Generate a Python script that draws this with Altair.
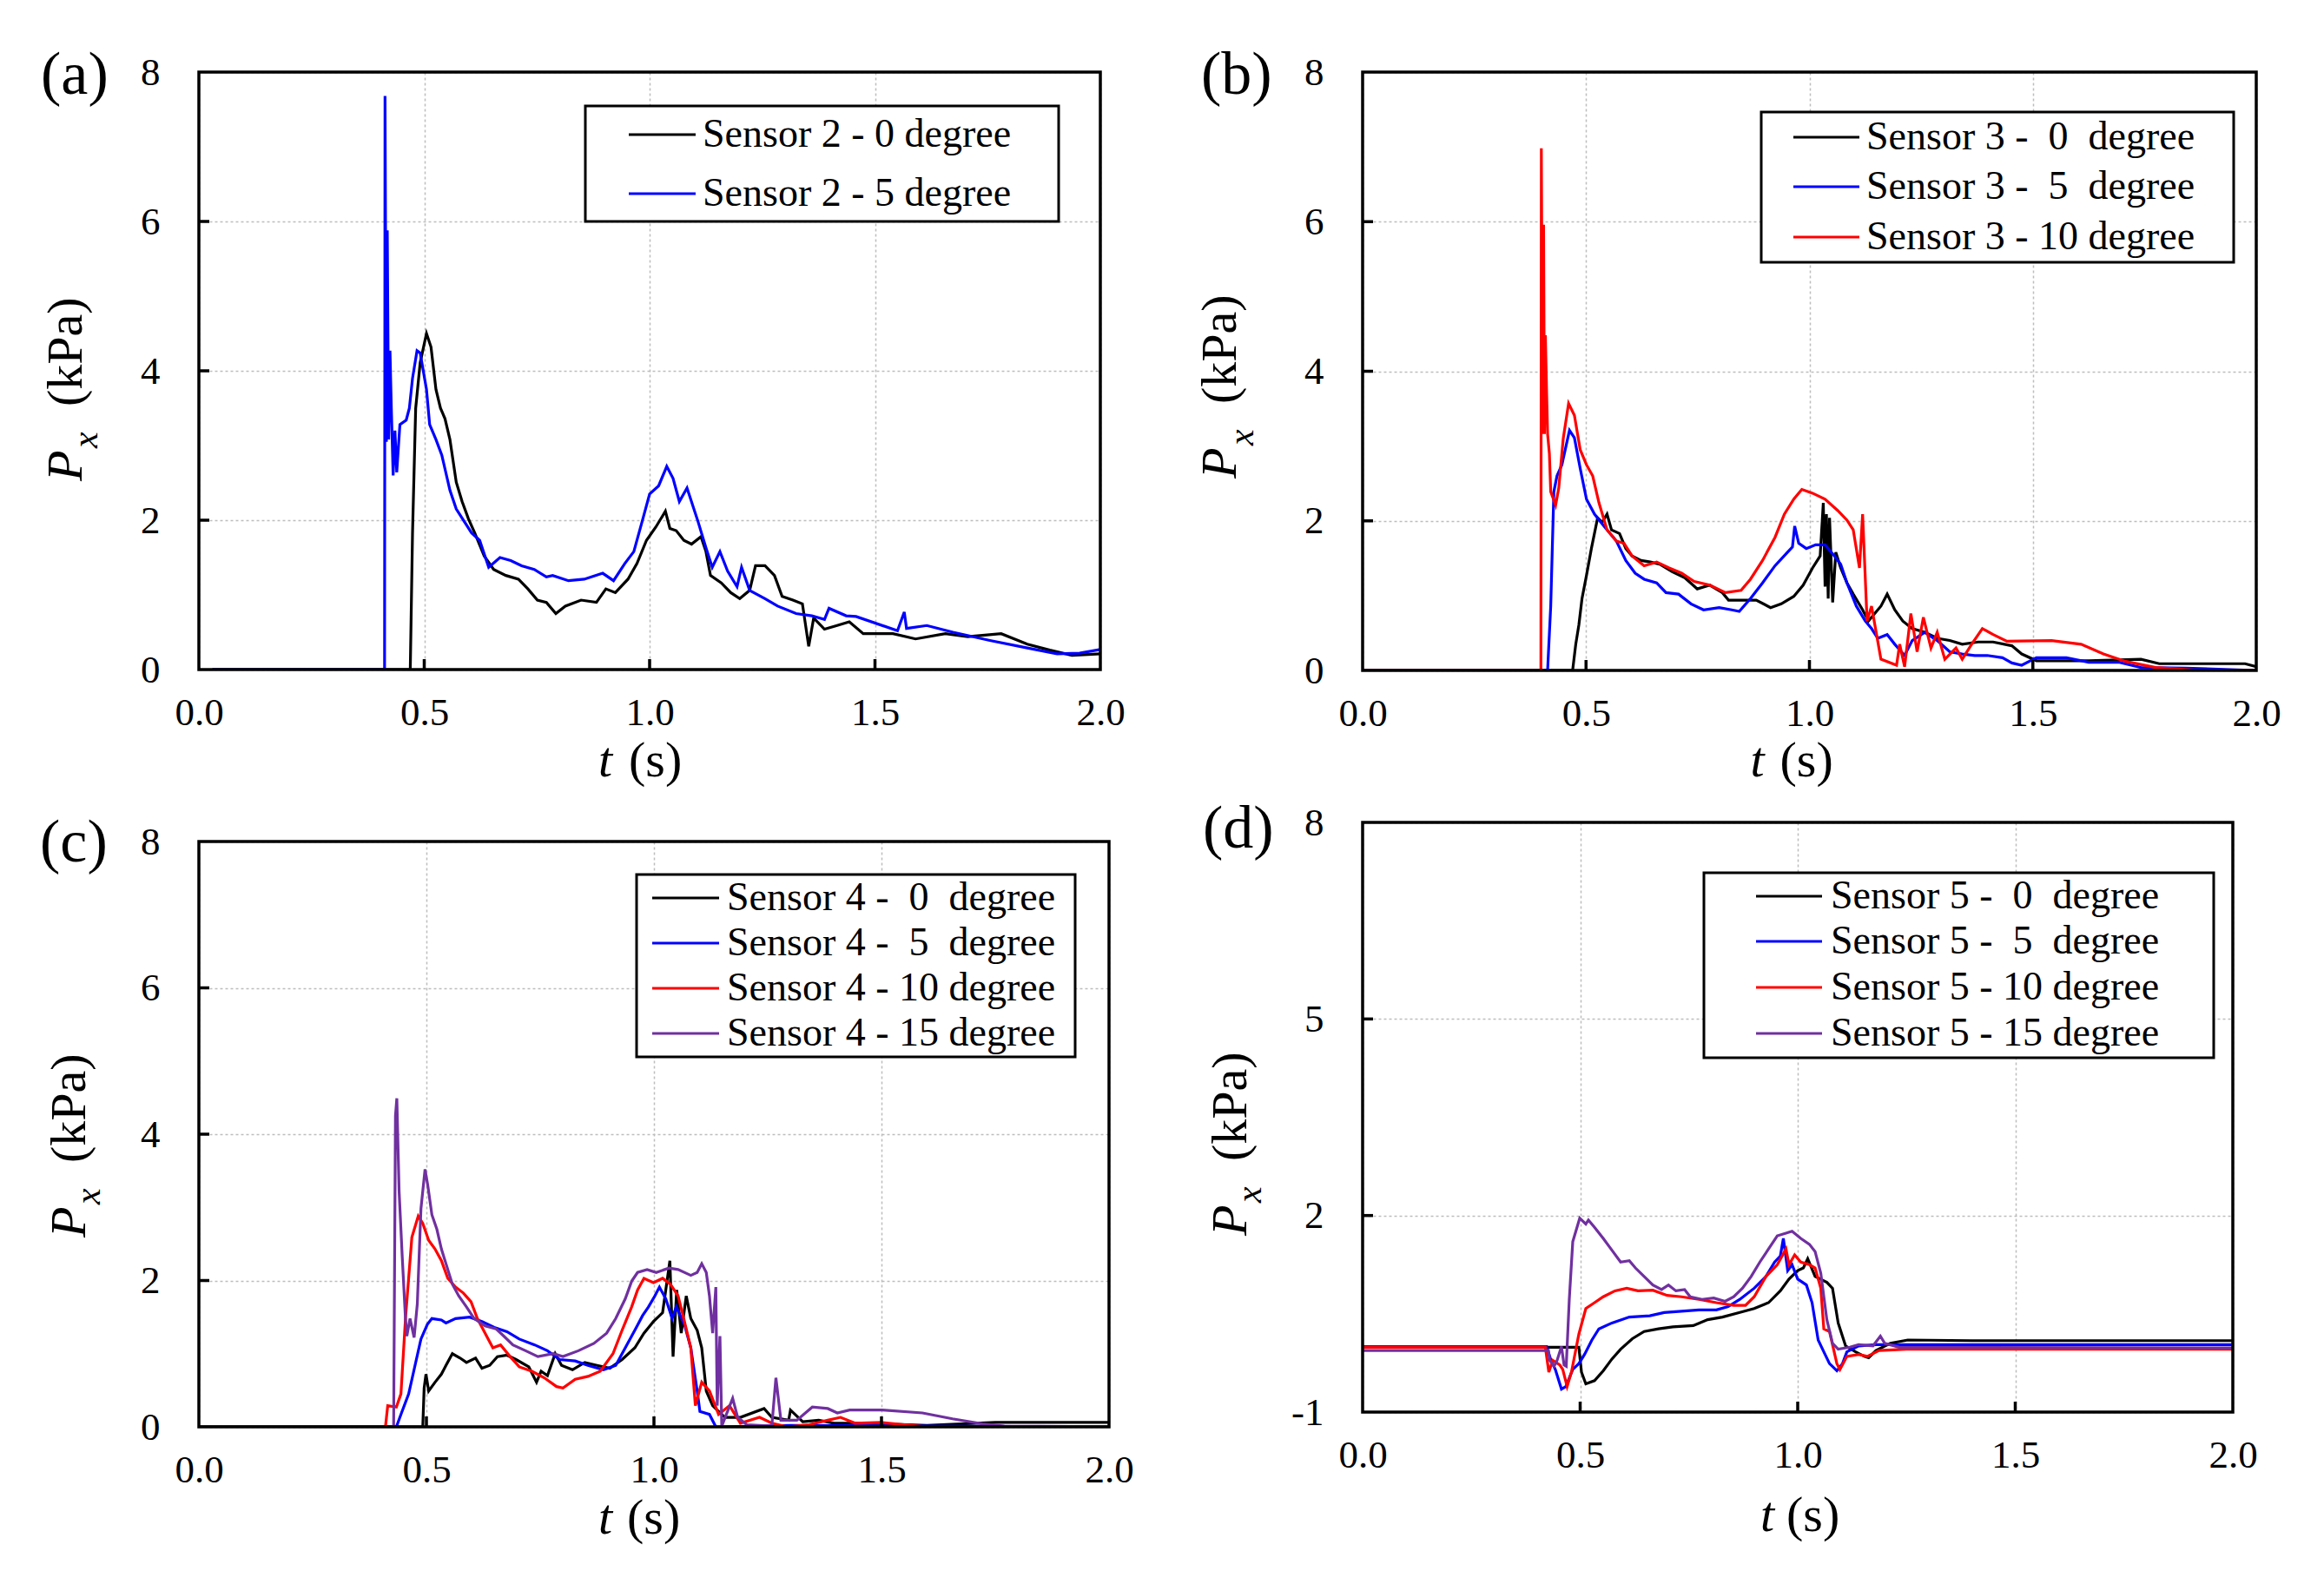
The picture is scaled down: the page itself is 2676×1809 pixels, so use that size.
import pandas as pd
import altair as alt

FONT = "Liberation Serif"
BLACK, BLUE, RED, PURPLE = "#000000", "#0000FF", "#FF0000", "#7030A0"

X_TICKS = [0.0, 0.5, 1.0, 1.5, 2.0]

# Pressure traces: (t [s], Px [kPa])
# (a) sensor 2
s2_0 = [(0.03, 0.0), (0.469, 0.0), (0.474, 1.83), (0.481, 3.5), (0.491, 4.11), (0.505, 4.5), (0.515, 4.32),
        (0.526, 3.75), (0.536, 3.5), (0.546, 3.36), (0.557, 3.08), (0.571, 2.51), (0.584, 2.25), (0.598, 2.02),
        (0.612, 1.83), (0.633, 1.52), (0.654, 1.34), (0.681, 1.26), (0.709, 1.21), (0.73, 1.08), (0.751, 0.93),
        (0.771, 0.9), (0.792, 0.75), (0.813, 0.85), (0.848, 0.93), (0.882, 0.9), (0.903, 1.08), (0.924, 1.03),
        (0.952, 1.21), (0.972, 1.42), (0.993, 1.73), (1.014, 1.91), (1.035, 2.12), (1.045, 1.89), (1.059, 1.86),
        (1.076, 1.73), (1.093, 1.68), (1.114, 1.78), (1.125, 1.58), (1.135, 1.26), (1.159, 1.16), (1.18, 1.03),
        (1.2, 0.95), (1.222, 1.06), (1.235, 1.39), (1.256, 1.39), (1.277, 1.26), (1.294, 0.98), (1.318, 0.93),
        (1.339, 0.88), (1.353, 0.31), (1.364, 0.69), (1.388, 0.54), (1.416, 0.59), (1.443, 0.64), (1.474, 0.48),
        (1.54, 0.48), (1.59, 0.41), (1.656, 0.48), (1.706, 0.44), (1.78, 0.48), (1.838, 0.34), (1.888, 0.26),
        (1.937, 0.19), (2.0, 0.21)]
s2_5 = [(0.03, 0.0), (0.412, 0.0), (0.413, 7.68), (0.416, 3.05), (0.418, 5.88), (0.421, 3.08), (0.424, 4.27),
        (0.427, 3.5), (0.431, 2.6), (0.435, 3.2), (0.439, 2.64), (0.446, 3.28), (0.46, 3.34), (0.467, 3.5),
        (0.474, 3.9), (0.484, 4.27), (0.491, 4.24), (0.505, 3.75), (0.512, 3.28), (0.526, 3.08), (0.539, 2.87),
        (0.557, 2.4), (0.571, 2.15), (0.588, 1.99), (0.605, 1.83), (0.623, 1.73), (0.643, 1.37), (0.668, 1.5),
        (0.692, 1.46), (0.716, 1.39), (0.744, 1.34), (0.771, 1.24), (0.785, 1.26), (0.82, 1.19), (0.855, 1.21),
        (0.896, 1.29), (0.92, 1.19), (0.945, 1.42), (0.965, 1.58), (0.986, 2.04), (1.0, 2.35), (1.02, 2.46),
        (1.038, 2.72), (1.052, 2.56), (1.066, 2.25), (1.083, 2.43), (1.107, 1.99), (1.125, 1.63), (1.139, 1.37),
        (1.156, 1.58), (1.173, 1.32), (1.194, 1.11), (1.204, 1.37), (1.222, 1.06), (1.256, 0.95), (1.284, 0.85),
        (1.325, 0.75), (1.36, 0.72), (1.388, 0.67), (1.398, 0.82), (1.436, 0.72), (1.458, 0.71), (1.55, 0.52),
        (1.565, 0.77), (1.57, 0.55), (1.615, 0.59), (1.673, 0.5), (1.755, 0.39), (1.838, 0.29), (1.904, 0.21),
        (1.954, 0.22), (2.0, 0.27)]

# (b) sensor 3
s3_0 = [(0.0, 0.0), (0.47, 0.0), (0.477, 0.35), (0.484, 0.61), (0.491, 0.96), (0.501, 1.27), (0.512, 1.63),
        (0.526, 2.04), (0.536, 1.98), (0.547, 2.09), (0.557, 1.88), (0.575, 1.83), (0.589, 1.63), (0.603, 1.53),
        (0.623, 1.47), (0.644, 1.45), (0.665, 1.42), (0.693, 1.32), (0.721, 1.24), (0.749, 1.09), (0.777, 1.14),
        (0.805, 1.04), (0.819, 0.94), (0.854, 0.94), (0.881, 0.94), (0.913, 0.84), (0.937, 0.89), (0.965, 0.99),
        (0.986, 1.14), (1.007, 1.37), (1.024, 1.53), (1.031, 2.24), (1.035, 1.12), (1.038, 2.09), (1.042, 0.96),
        (1.045, 2.04), (1.052, 0.91), (1.059, 1.58), (1.07, 1.37), (1.084, 1.17), (1.098, 1.02), (1.119, 0.81),
        (1.132, 0.66), (1.146, 0.76), (1.16, 0.86), (1.174, 1.02), (1.191, 0.81), (1.209, 0.66), (1.23, 0.56),
        (1.258, 0.51), (1.286, 0.43), (1.314, 0.4), (1.342, 0.35), (1.377, 0.38), (1.411, 0.38), (1.453, 0.33),
        (1.475, 0.22), (1.508, 0.13), (1.625, 0.13), (1.742, 0.15), (1.783, 0.09), (1.875, 0.09), (1.975, 0.09),
        (2.0, 0.05)]
s3_5 = [(0.0, 0.0), (0.414, 0.0), (0.421, 0.86), (0.428, 2.39), (0.435, 2.6), (0.446, 2.75), (0.463, 3.21),
        (0.474, 3.11), (0.487, 2.7), (0.501, 2.29), (0.519, 2.09), (0.54, 1.93), (0.568, 1.73), (0.589, 1.47),
        (0.61, 1.3), (0.63, 1.22), (0.658, 1.17), (0.679, 1.04), (0.707, 1.02), (0.735, 0.89), (0.763, 0.81),
        (0.798, 0.84), (0.826, 0.81), (0.843, 0.79), (0.868, 0.96), (0.895, 1.17), (0.923, 1.4), (0.951, 1.58),
        (0.962, 1.65), (0.967, 1.93), (0.976, 1.7), (0.993, 1.63), (1.014, 1.68), (1.035, 1.68), (1.056, 1.53),
        (1.07, 1.42), (1.084, 1.17), (1.105, 0.86), (1.125, 0.66), (1.139, 0.56), (1.153, 0.43), (1.174, 0.48),
        (1.191, 0.35), (1.213, 0.2), (1.23, 0.4), (1.258, 0.51), (1.286, 0.4), (1.314, 0.25), (1.342, 0.22),
        (1.37, 0.2), (1.398, 0.2), (1.432, 0.17), (1.453, 0.1), (1.475, 0.07), (1.508, 0.17), (1.575, 0.17),
        (1.625, 0.11), (1.692, 0.11), (1.742, 0.04), (1.842, 0.03), (2.0, 0.0)]
s3_10 = [(0.0, 0.0), (0.399, 0.0), (0.4, 6.98), (0.403, 3.16), (0.405, 5.96), (0.407, 3.16), (0.409, 4.48),
         (0.412, 3.67), (0.414, 3.16), (0.418, 2.9), (0.421, 2.39), (0.432, 2.21), (0.439, 2.44), (0.449, 3.1),
         (0.461, 3.57), (0.474, 3.41), (0.487, 2.95), (0.501, 2.75), (0.515, 2.6), (0.529, 2.24), (0.547, 1.88),
         (0.568, 1.73), (0.585, 1.7), (0.603, 1.53), (0.63, 1.4), (0.658, 1.45), (0.686, 1.37), (0.714, 1.3),
         (0.742, 1.19), (0.777, 1.14), (0.812, 1.04), (0.847, 1.07), (0.868, 1.22), (0.895, 1.47), (0.923, 1.78),
         (0.944, 2.09), (0.965, 2.29), (0.983, 2.42), (1.007, 2.37), (1.035, 2.29), (1.063, 2.14), (1.084, 2.01),
         (1.098, 1.88), (1.112, 1.37), (1.119, 2.09), (1.129, 0.66), (1.139, 0.86), (1.16, 0.15), (1.195, 0.07),
         (1.202, 0.35), (1.213, 0.05), (1.227, 0.76), (1.241, 0.25), (1.255, 0.71), (1.272, 0.3), (1.286, 0.51),
         (1.303, 0.15), (1.328, 0.3), (1.342, 0.15), (1.363, 0.35), (1.387, 0.56), (1.411, 0.48), (1.442, 0.39),
         (1.542, 0.4), (1.608, 0.35), (1.658, 0.22), (1.708, 0.12), (1.775, 0.04), (1.875, 0.0), (2.0, 0.0)]

# (c) sensor 4
s4_0 = [(0.0, 0.0), (0.492, 0.0), (0.495, 0.53), (0.499, 0.72), (0.505, 0.49), (0.519, 0.61), (0.533, 0.72),
        (0.543, 0.84), (0.557, 1.0), (0.574, 0.94), (0.588, 0.88), (0.608, 0.94), (0.622, 0.8), (0.639, 0.84),
        (0.656, 0.96), (0.677, 0.98), (0.697, 0.92), (0.725, 0.82), (0.742, 0.61), (0.752, 0.76), (0.766, 0.7),
        (0.783, 1.0), (0.797, 0.84), (0.821, 0.78), (0.848, 0.88), (0.875, 0.84), (0.903, 0.8), (0.93, 0.92),
        (0.958, 1.08), (0.978, 1.28), (0.999, 1.44), (1.019, 1.56), (1.035, 2.27), (1.042, 0.96), (1.05, 1.87),
        (1.06, 1.28), (1.071, 1.79), (1.081, 1.48), (1.095, 1.32), (1.105, 1.08), (1.115, 0.49), (1.129, 0.29),
        (1.156, 0.13), (1.19, 0.13), (1.242, 0.25), (1.259, 0.13), (1.296, 0.09), (1.3, 0.23), (1.327, 0.07),
        (1.362, 0.09), (1.396, 0.05), (1.442, 0.05), (1.5, 0.04), (1.6, 0.02), (1.75, 0.06), (2.0, 0.06)]
s4_5 = [(0.0, 0.0), (0.434, 0.0), (0.444, 0.17), (0.461, 0.45), (0.475, 0.84), (0.488, 1.2), (0.502, 1.4),
        (0.512, 1.48), (0.533, 1.46), (0.543, 1.42), (0.564, 1.48), (0.595, 1.5), (0.622, 1.44), (0.649, 1.36),
        (0.677, 1.3), (0.704, 1.2), (0.738, 1.12), (0.766, 1.04), (0.793, 0.92), (0.827, 0.9), (0.855, 0.84),
        (0.889, 0.78), (0.916, 0.84), (0.937, 1.08), (0.958, 1.32), (0.975, 1.52), (0.988, 1.64), (1.002, 1.79),
        (1.012, 1.91), (1.026, 1.75), (1.04, 1.48), (1.049, 1.64), (1.067, 1.4), (1.081, 1.08), (1.095, 0.49),
        (1.101, 0.21), (1.122, 0.17), (1.136, 0.0), (1.3, 0.02), (1.6, 0.01), (2.0, 0.0)]
s4_10 = [(0.0, 0.0), (0.41, 0.0), (0.415, 0.29), (0.434, 0.27), (0.444, 0.45), (0.454, 1.48), (0.468, 2.59),
         (0.482, 2.88), (0.492, 2.78), (0.505, 2.55), (0.519, 2.43), (0.533, 2.27), (0.547, 2.03), (0.564, 1.91),
         (0.581, 1.83), (0.598, 1.71), (0.612, 1.48), (0.629, 1.28), (0.646, 1.08), (0.663, 1.12), (0.684, 0.96),
         (0.704, 0.82), (0.732, 0.76), (0.759, 0.67), (0.786, 0.55), (0.8, 0.53), (0.827, 0.65), (0.855, 0.69),
         (0.882, 0.76), (0.91, 1.0), (0.93, 1.32), (0.951, 1.64), (0.964, 1.87), (0.978, 2.03), (0.999, 1.97),
         (1.019, 2.03), (1.036, 1.95), (1.053, 1.79), (1.067, 1.44), (1.081, 1.08), (1.091, 0.29), (1.105, 0.61),
         (1.122, 0.49), (1.142, 0.17), (1.166, 0.29), (1.19, 0.05), (1.232, 0.13), (1.259, 0.05), (1.293, 0.0),
         (1.341, 0.03), (1.382, 0.09), (1.41, 0.13), (1.442, 0.05), (1.5, 0.06), (1.55, 0.03), (1.6, 0.0), (2.0, 0.0)]
s4_15 = [(0.0, 0.0), (0.428, 0.0), (0.432, 4.25), (0.435, 4.49), (0.44, 3.22), (0.447, 2.31), (0.454, 1.48),
         (0.457, 1.24), (0.464, 1.48), (0.473, 1.22), (0.48, 1.68), (0.488, 2.98), (0.497, 3.52), (0.503, 3.3),
         (0.512, 2.9), (0.523, 2.7), (0.533, 2.43), (0.543, 2.23), (0.557, 1.95), (0.571, 1.79), (0.588, 1.64),
         (0.605, 1.48), (0.629, 1.38), (0.653, 1.34), (0.67, 1.24), (0.69, 1.12), (0.718, 1.04), (0.745, 0.96),
         (0.779, 1.0), (0.8, 0.96), (0.834, 1.04), (0.868, 1.14), (0.896, 1.28), (0.916, 1.48), (0.937, 1.75),
         (0.951, 1.99), (0.964, 2.11), (0.985, 2.15), (1.005, 2.11), (1.033, 2.17), (1.053, 2.15), (1.081, 2.07),
         (1.095, 2.11), (1.105, 2.23), (1.115, 2.11), (1.122, 1.79), (1.129, 1.28), (1.136, 1.91), (1.139, 0.29),
         (1.145, 1.24), (1.149, 0.01), (1.173, 0.39), (1.184, 0.13), (1.204, 0.03), (1.259, 0.01), (1.268, 0.67),
         (1.279, 0.09), (1.314, 0.09), (1.348, 0.27), (1.382, 0.25), (1.403, 0.19), (1.43, 0.23), (1.502, 0.23),
         (1.59, 0.19), (1.656, 0.11), (1.722, 0.04), (1.77, 0.01), (2.0, 0.0)]

# (d) sensor 5
s5_0 = [(0.0, -0.01), (0.497, -0.01), (0.503, -0.39), (0.513, -0.57), (0.533, -0.52), (0.553, -0.37),
        (0.573, -0.19), (0.593, -0.04), (0.62, 0.12), (0.647, 0.23), (0.68, 0.27), (0.713, 0.3), (0.76, 0.32),
        (0.793, 0.41), (0.827, 0.45), (0.867, 0.52), (0.9, 0.58), (0.933, 0.67), (0.96, 0.85), (0.98, 1.03),
        (1.0, 1.16), (1.013, 1.2), (1.023, 1.34), (1.04, 1.07), (1.067, 0.98), (1.08, 0.89), (1.093, 0.36),
        (1.11, 0.01), (1.133, -0.08), (1.153, -0.15), (1.163, -0.17), (1.18, -0.06), (1.213, 0.05), (1.253, 0.1),
        (1.4, 0.09), (2.0, 0.09)]
s5_5 = [(0.0, 0.0), (0.423, 0.0), (0.433, -0.21), (0.443, -0.35), (0.457, -0.65), (0.467, -0.61), (0.483, -0.35),
        (0.497, -0.26), (0.51, -0.12), (0.527, 0.1), (0.543, 0.27), (0.573, 0.36), (0.613, 0.45), (0.66, 0.47),
        (0.693, 0.52), (0.733, 0.54), (0.773, 0.56), (0.813, 0.56), (0.84, 0.61), (0.867, 0.72), (0.9, 0.89),
        (0.927, 1.07), (0.947, 1.29), (0.96, 1.38), (0.967, 1.65), (0.977, 1.16), (0.987, 1.25), (1.0, 1.03),
        (1.02, 0.94), (1.033, 0.67), (1.047, 0.1), (1.06, -0.08), (1.073, -0.26), (1.09, -0.37), (1.103, -0.26),
        (1.113, -0.08), (1.14, 0.01), (1.18, 0.03), (2.0, 0.03)]
s5_10 = [(0.0, -0.01), (0.42, -0.01), (0.428, -0.39), (0.437, -0.21), (0.453, -0.28), (0.46, -0.35), (0.47, -0.61),
         (0.48, -0.39), (0.497, 0.19), (0.513, 0.58), (0.533, 0.67), (0.553, 0.76), (0.58, 0.85), (0.607, 0.89),
         (0.633, 0.85), (0.667, 0.86), (0.7, 0.78), (0.733, 0.76), (0.773, 0.72), (0.813, 0.67), (0.853, 0.63),
         (0.88, 0.63), (0.9, 0.76), (0.927, 1.07), (0.953, 1.25), (0.973, 1.49), (0.98, 1.25), (0.993, 1.4),
         (1.007, 1.29), (1.027, 1.25), (1.04, 1.2), (1.053, 0.89), (1.06, 0.27), (1.073, 0.23), (1.09, -0.26),
         (1.097, -0.35), (1.113, -0.15), (1.14, -0.12), (1.16, -0.15), (1.187, -0.06), (1.25, -0.04), (2.0, -0.04)]
s5_15 = [(0.0, -0.06), (0.427, -0.06), (0.43, -0.21), (0.44, -0.3), (0.447, -0.21), (0.457, 0.0), (0.463, -0.28),
         (0.468, -0.3), (0.475, 0.72), (0.483, 1.6), (0.499, 1.96), (0.513, 1.87), (0.519, 1.93), (0.533, 1.82),
         (0.553, 1.65), (0.573, 1.47), (0.593, 1.29), (0.613, 1.31), (0.627, 1.2), (0.647, 1.07), (0.667, 0.94),
         (0.687, 0.87), (0.703, 0.94), (0.72, 0.85), (0.74, 0.87), (0.753, 0.76), (0.78, 0.72), (0.807, 0.74),
         (0.833, 0.69), (0.853, 0.76), (0.873, 0.89), (0.893, 1.07), (0.913, 1.29), (0.933, 1.49), (0.953, 1.69),
         (0.973, 1.73), (0.987, 1.76), (1.007, 1.65), (1.027, 1.56), (1.04, 1.45), (1.053, 1.12), (1.067, 0.41),
         (1.08, 0.05), (1.093, -0.04), (1.12, -0.01), (1.14, 0.03), (1.173, 0.01), (1.19, 0.16), (1.2, 0.05),
         (1.233, -0.01), (2.0, -0.02)]

NB = "\u00a0"
labels_a = ["Sensor 2 - 0 degree", "Sensor 2 - 5 degree"]
labels_b = [f"Sensor 3 -{NB} 0{NB} degree", f"Sensor 3 -{NB} 5{NB} degree", "Sensor 3 - 10 degree"]
labels_c = [f"Sensor 4 -{NB} 0{NB} degree", f"Sensor 4 -{NB} 5{NB} degree", "Sensor 4 - 10 degree",
            "Sensor 4 - 15 degree"]
labels_d = [f"Sensor 5 -{NB} 0{NB} degree", f"Sensor 5 -{NB} 5{NB} degree", "Sensor 5 - 10 degree",
            "Sensor 5 - 15 degree"]

ONE = pd.DataFrame({"k": [0]})
LW = 3.2


def note(txt, x, y, size, style="normal", angle=0, baseline="alphabetic"):
    return alt.Chart(ONE).mark_text(
        text=txt, font=FONT, fontSize=size, fontStyle=style, angle=angle,
        align="left", baseline=baseline, color="black",
    ).encode(x=alt.value(x), y=alt.value(y))


def panel(series, colors, names, w, h, ydom, yvals, letter, lpos, ypos, xpos, box, rows, sym, lab_x):
    common = dict(grid=True, gridColor="#bdbdbd", gridDash=[3, 3], gridWidth=1.5, domain=False,
                  ticks=False, title=None, labelFont=FONT, labelFontSize=45, labelColor="black")
    X = alt.X("t:Q", scale=alt.Scale(domain=[0, 2], nice=False),
              axis=alt.Axis(values=X_TICKS, format=".1f", labelPadding=27, labelFlush=False, **common))
    Y = alt.Y("p:Q", scale=alt.Scale(domain=ydom, nice=False),
              axis=alt.Axis(values=yvals, labelExpr="'' + datum.value", labelPadding=45, **common))

    layers = []
    for pts, c in zip(series, colors):
        df = pd.DataFrame(pts, columns=["t", "p"])
        layers.append(alt.Chart(df).mark_line(color=c, strokeWidth=LW, clip=True).encode(x=X, y=Y))

    # tick marks pointing into the plot
    layers.append(alt.Chart(pd.DataFrame({"t": X_TICKS[1:-1]})).mark_rule(color="black", strokeWidth=3.5)
                  .encode(x=X, y=alt.value(h), y2=alt.value(h - 12)))
    layers.append(alt.Chart(pd.DataFrame({"p": yvals[1:-1]})).mark_rule(color="black", strokeWidth=3.5)
                  .encode(y=Y, x=alt.value(0), x2=alt.value(12)))

    # plot frame on top of grid and lines
    layers.append(alt.Chart(ONE).mark_rect(fill=None, stroke="black", strokeWidth=3.5)
                  .encode(x=alt.value(0), x2=alt.value(w), y=alt.value(0), y2=alt.value(h)))

    # boxed legend
    x0, y0, x1, y1 = box
    layers.append(alt.Chart(ONE).mark_rect(fill="white", stroke="black", strokeWidth=3)
                  .encode(x=alt.value(x0), x2=alt.value(x1), y=alt.value(y0), y2=alt.value(y1)))
    for name, c, ry in zip(names, colors, rows):
        layers.append(alt.Chart(ONE).mark_rule(color=c, strokeWidth=LW)
                      .encode(x=alt.value(sym[0]), x2=alt.value(sym[1]), y=alt.value(ry)))
        layers.append(note(name, lab_x, ry, 46, baseline="middle"))

    # panel letter and axis titles
    layers.append(note(letter, lpos[0], lpos[1], 70))
    px, sx, py = ypos
    layers.append(note("P", px, py, 58, "italic", 270))
    layers.append(note("x", sx, py - 38, 42, "italic", 270))
    layers.append(note("(kPa)", px, py - 86, 58, angle=270))
    tdx, sdx, ty = xpos
    layers.append(note("t", w / 2 + tdx, h + ty, 58, "italic"))
    layers.append(note("(s)", w / 2 + sdx, h + ty, 58))

    return alt.layer(*layers).properties(width=w, height=h)


pa = panel([s2_0, s2_5], [BLACK, BLUE], labels_a, 1038, 688, [0, 8], [0, 2, 4, 6, 8], "(a)",
           (-182, 25), (-135, -117, 471), (-59, -24, 123),
           (445, 39, 990, 172), [72, 140], (495, 572), 580)
pb = panel([s3_0, s3_5, s3_10], [BLACK, BLUE, RED], labels_b, 1029, 689, [0, 8], [0, 2, 4, 6, 8], "(b)",
           (-186, 25), (-146, -126, 468), (-68, -34, 122),
           (459, 46, 1003, 219), [75, 132, 190], (496, 572), 580)
pc = panel([s4_0, s4_5, s4_10, s4_15], [BLACK, BLUE, RED, PURPLE], labels_c, 1048, 674, [0, 8],
           [0, 2, 4, 6, 8], "(c)", (-183, 23), (-131, -114, 456), (-64, -31, 123),
           (504, 38, 1009, 248), [65, 117, 169, 221], (522, 599), 608)
pd_ = panel([s5_0, s5_5, s5_10, s5_15], [BLACK, BLUE, RED, PURPLE], labels_d, 1002, 679, [-1, 8],
            [-1, 2, 5, 8], "(d)", (-184, 29), (-134, -117, 476), (-43, -13, 137),
            (393, 58, 980, 271), [85, 137, 190, 243], (453, 529), 539)

chart = alt.hconcat(
    alt.vconcat(pa, pc, spacing=30),
    alt.vconcat(pb, pd_, spacing=14),
    spacing=71,
).properties(
    padding={"left": 38, "top": 44, "right": 5, "bottom": 5},
    background="white",
).configure_view(strokeWidth=0)

chart.save("out.html", embed_options={"renderer": "svg", "actions": False})
